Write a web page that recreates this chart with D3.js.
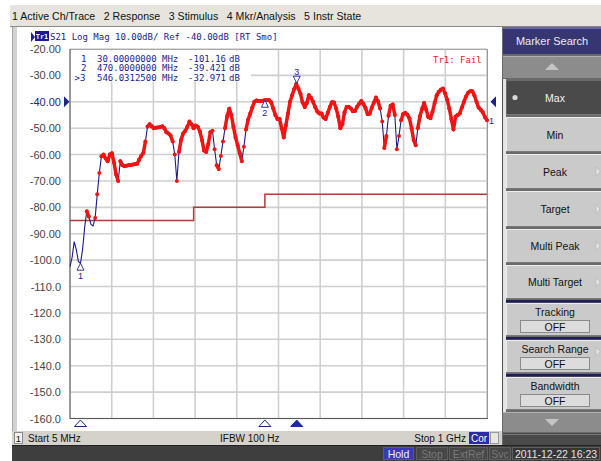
<!DOCTYPE html>
<html><head><meta charset="utf-8">
<script src="https://cdn.jsdelivr.net/npm/d3@7"></script>
<style>
body{margin:0;background:#fff}
svg{display:block}
text{font-family:"Liberation Sans",Arial,sans-serif}
.mono{font-family:"DejaVu Sans Mono","Liberation Mono",monospace}
</style>
</head><body>
<svg id="c" width="601" height="461"></svg>
<script>
// ---------------- DATA ----------------
const startMHz = 5, stopMHz = 1000, stepMHz = 5;
const traceDb = [
 -102.5,-99,-93,-96,-100.5,-101.2,-96,-87.5,-81.5,-83.5,
 -86.5,-87,-84,-75,-67,-60.6,-60,-61.5,-62.5,-60,
 -59.5,-63,-67.5,-70,-62.5,-64,-64.4,-64.2,-64,-64,
 -63.8,-63.7,-63.5,-62,-60.5,-59.4,-55,-49.4,-48.5,-49.3,
 -50,-49.8,-49.7,-49.6,-49.3,-50,-51.5,-52,-52.8,-55,
 -60,-70,-59,-54.5,-52,-51,-49.5,-47.5,-48.5,-50,
 -49,-49.5,-51.3,-54.5,-58.5,-59,-56,-51.5,-51,-58,
 -64,-65.5,-60.5,-55,-50,-45.5,-42.6,-45,-49.5,-53.5,
 -56.5,-59.5,-62.5,-57,-50.5,-46.8,-44.5,-42.2,-40,-39.5,
 -39.7,-39.8,-39.6,-39.4,-39.3,-39.4,-40.2,-42.5,-45,-46.5,
 -46.5,-50,-53.5,-49,-44.5,-40,-37.5,-35.2,-33.2,-35,
 -37,-40.3,-42,-40.5,-37.5,-38.5,-40,-42,-43.7,-44.4,
 -44.4,-46,-46.5,-44.2,-42,-40.2,-40.3,-42.5,-45.6,-50,
 -48.5,-44,-42,-41.9,-42.5,-43.6,-43.5,-41.9,-40.7,-39.7,
 -40.8,-42.3,-44.6,-44.5,-42.3,-40.3,-38.4,-39.8,-42.5,-47.5,
 -57.5,-53,-45.3,-41.5,-41,-45,-58,-53,-47,-44.6,
 -44.2,-44.9,-46.3,-50,-54.5,-56.5,-50,-45.5,-42.7,-40.5,
 -43,-45.8,-46.2,-43.8,-40.5,-37.5,-36.2,-35.4,-35,-36.8,
 -39.2,-42.5,-46.5,-50.5,-45.6,-45,-44.4,-42.2,-40,-38,
 -36.6,-36,-36,-37.6,-40,-42.2,-43,-44,-45.8,-47
];
const traceMHz = traceDb.map((d, i) => startMHz + i * stepMHz);

const limitStartMHz = [5, 300, 470];
const limitStopMHz  = [300, 470, 1000];
const limitDb       = [-85, -80, -75];

const markerNum  = ["1", "2", "3"];
const markerMHz  = [30, 470, 546.03125];
const markerDb   = [-101.16, -39.421, -32.971];
const markerFreqText = ["30.00000000 MHz", "470.0000000 MHz", "546.0312500 MHz"];
const markerValText  = ["-101.16", "-39.421", "-32.971"];

const yTickValues = [-20,-30,-40,-50,-60,-70,-80,-90,-100,-110,-120,-130,-140,-150,-160];
const yTickLabels = ["-20.00","-30.00","-40.00","-50.00","-60.00","-70.00","-80.00","-90.00",
                     "-100.0","-110.0","-120.0","-130.0","-140.0","-150.0","-160.0"];
const xGridMHz = [5,104.5,204,303.5,403,502.5,602,701.5,801,900.5,1000];

const menuItems = ["1 Active Ch/Trace","2 Response","3 Stimulus","4 Mkr/Analysis","5 Instr State"];
const softkeys = [
  {label:"Max", y0:80, y1:115, active:true},
  {label:"Min", y0:117, y1:152},
  {label:"Peak", y0:154, y1:189, arrow:true},
  {label:"Target", y0:191, y1:227, arrow:true},
  {label:"Multi Peak", y0:229, y1:263, arrow:true},
  {label:"Multi Target", y0:265, y1:299, arrow:true},
  {label:"Tracking", y0:303, y1:336, value:"OFF"},
  {label:"Search Range", y0:340, y1:373, value:"OFF", arrow:true},
  {label:"Bandwidth", y0:377, y1:410, value:"OFF"}
];

// ---------------- DRAW ----------------
const svg = d3.select("#c");
const NAVY = "#1c238c";

const x = d3.scaleLinear().domain([startMHz, stopMHz]).range([70, 487]);
const y = d3.scaleLinear().domain([-160, -20]).range([418.5, 49]);

// Top menu bar
svg.append("rect").attr("x",10).attr("y",5).attr("width",591).attr("height",21).attr("fill","#e6e4dc");
svg.append("line").attr("x1",10).attr("x2",601).attr("y1",26.5).attr("y2",26.5).attr("stroke","#8a8a8a");
let mx = 12;
menuItems.forEach(m => {
  const t = svg.append("text").attr("x",mx).attr("y",20).attr("font-size",10.6).attr("fill","#111").text(m);
  mx += t.node().getComputedTextLength() + 8.5;
});

// Main panel
svg.append("rect").attr("x",12).attr("y",27).attr("width",490).attr("height",404).attr("fill","#fff");
svg.append("rect").attr("x",12).attr("y",27).attr("width",5).attr("height",404).attr("fill","#d2d2d2");
svg.append("line").attr("x1",12.5).attr("x2",12.5).attr("y1",27).attr("y2",431).attr("stroke","#a8a8a8");

// Trace header
svg.append("path").attr("d","M31,32 L35,37 L31,42 Z").attr("fill",NAVY);
svg.append("rect").attr("x",35).attr("y",31).attr("width",14).attr("height",10).attr("fill","#1a1a90");
svg.append("text").attr("class","mono").attr("x",42).attr("y",39).attr("text-anchor","middle").attr("font-size",6.8).attr("font-weight","bold").attr("fill","#fff").text("Tr1");
svg.append("text").attr("class","mono").attr("x",50).attr("y",40).attr("font-size",9).attr("fill",NAVY)
  .text("S21 Log Mag 10.00dB/ Ref -40.00dB [RT Smo]");

// Grid
const g = svg.append("g");
g.selectAll("line.hg").data(yTickValues).join("line")
  .attr("x1",70).attr("x2",487).attr("y1",d=>y(d)).attr("y2",d=>y(d))
  .attr("stroke","#cfcfcf").attr("stroke-width",1.6);
g.selectAll("line.vg").data(xGridMHz).join("line")
  .attr("x1",d=>x(d)).attr("x2",d=>x(d)).attr("y1",y(-20)).attr("y2",y(-160))
  .attr("stroke","#cfcfcf").attr("stroke-width",1.6);
svg.append("line").attr("x1",70).attr("x2",487.5).attr("y1",49.5).attr("y2",49.5).attr("stroke","#a8a8a8");
svg.append("line").attr("x1",487.5).attr("x2",487.5).attr("y1",49).attr("y2",419).attr("stroke","#9a9a9a");
svg.append("line").attr("x1",70).attr("x2",70).attr("y1",49).attr("y2",419).attr("stroke","#5a5a5a");
svg.append("line").attr("x1",70).attr("x2",488).attr("y1",418.5).attr("y2",418.5).attr("stroke","#5a5a5a");

// Y axis labels
const yAxis = d3.axisLeft(y).tickValues(yTickValues)
  .tickFormat((d,i)=>yTickLabels[i]).tickSize(0).tickPadding(0);
const ya = svg.append("g").attr("transform","translate(61,0)").call(yAxis);
ya.select(".domain").remove();
ya.selectAll("text").attr("font-family","Liberation Sans, Arial, sans-serif").attr("font-size",11)
  .attr("fill",d=>d===-40?NAVY:"#454545");
svg.append("path").attr("d",`M64,${y(-40)-5.5} L69.5,${y(-40)} L64,${y(-40)+5.5} Z`).attr("fill",NAVY);
svg.append("path").attr("d",`M496,${y(-40)-5.5} L490.5,${y(-40)} L496,${y(-40)+5.5} Z`).attr("fill",NAVY);

// Limit line (step)
const limPts = [];
limitStartMHz.forEach((s,i)=>{ limPts.push([s,limitDb[i]]); limPts.push([limitStopMHz[i],limitDb[i]]); });
svg.append("path").attr("d", d3.line().x(d=>x(d[0])).y(d=>y(d[1]))(limPts))
  .attr("fill","none").attr("stroke","#b23a3a").attr("stroke-width",1.5);

// Trace line
const tr = traceMHz.map((f,i)=>[f,traceDb[i]]);
svg.append("path").attr("d", d3.line().x(d=>x(d[0])).y(d=>y(d[1]))(tr))
  .attr("fill","none").attr("stroke","#1c1c88").attr("stroke-width",1.1);
// fail points
function limitAt(f){ for(let i=0;i<limitStartMHz.length;i++){ if(f>=limitStartMHz[i] && f<limitStopMHz[i]) return limitDb[i]; } return limitDb[limitDb.length-1]; }
const fail = tr.map(d=>d[1]>limitAt(d[0]));
const failG = svg.append("g");
for (let i=1;i<tr.length;i++){
  if (fail[i] && fail[i-1]) {
    const dy = Math.abs(y(tr[i][1]) - y(tr[i-1][1]));
    if (dy <= 13) {
      failG.append("line").attr("x1",x(tr[i-1][0])).attr("y1",y(tr[i-1][1]))
        .attr("x2",x(tr[i][0])).attr("y2",y(tr[i][1]))
        .attr("stroke","#ee1515").attr("stroke-width",3.5).attr("stroke-linecap","round");
    }
  }
}
failG.selectAll("circle").data(tr.filter((d,i)=>fail[i])).join("circle")
  .attr("cx",d=>x(d[0])).attr("cy",d=>y(d[1])).attr("r",2).attr("fill","#ee1515");

// Marker table (white box)
svg.append("rect").attr("x",71).attr("y",50.5).attr("width",180).attr("height",31).attr("fill","#fff");
markerNum.forEach((n,i)=>{
  const yy = 61.5 + i*9.6;
  svg.append("text").attr("class","mono").attr("x", i===2?74.5:81).attr("y",yy).attr("font-size",9).attr("fill",NAVY).text(i===2?">3":n);
  svg.append("text").attr("class","mono").attr("x",97).attr("y",yy).attr("font-size",9).attr("fill",NAVY).text(markerFreqText[i]);
  svg.append("text").attr("class","mono").attr("x",226).attr("y",yy).attr("font-size",9).attr("text-anchor","end").attr("fill",NAVY).text(markerValText[i]);
  svg.append("text").attr("class","mono").attr("x",229).attr("y",yy).attr("font-size",9).attr("fill",NAVY).text("dB");
});
svg.append("text").attr("class","mono").attr("x",433).attr("y",63).attr("font-size",9).attr("fill","#e02020").text("Tr1: Fail");

// Markers on trace
markerMHz.forEach((f,i)=>{
  const px = x(f), py = y(markerDb[i]);
  if (i === 2) {
    svg.append("path").attr("d",`M${px-3.5},${py-7} L${px+3.5},${py-7} L${px},${py} Z`).attr("fill","#fff").attr("stroke",NAVY).attr("stroke-width",0.9);
    svg.append("text").attr("x",px).attr("y",py-8.5).attr("text-anchor","middle").attr("font-size",9).attr("fill",NAVY).text(markerNum[i]);
  } else {
    svg.append("path").attr("d",`M${px},${py} L${px+3.5},${py+7} L${px-3.5},${py+7} Z`).attr("fill","#fff").attr("stroke",NAVY).attr("stroke-width",0.9);
    svg.append("text").attr("x",px).attr("y",py+15.5).attr("text-anchor","middle").attr("font-size",9).attr("fill",NAVY).text(markerNum[i]);
  }
  svg.append("path").attr("d",`M${px},${420} L${px+6},${426.5} L${px-6},${426.5} Z`)
    .attr("fill", i===2?"#1c2aa0":"#fff").attr("stroke",i===2?"#1c2aa0":NAVY).attr("stroke-width",1);
});
svg.append("text").attr("x",489).attr("y",y(traceDb[traceDb.length-1])+4).attr("font-size",9).attr("fill",NAVY).text("1");

// Channel status bar
svg.append("rect").attr("x",12).attr("y",431).attr("width",490).attr("height",14).attr("fill","#d4d2ca");
svg.append("rect").attr("x",14.5).attr("y",432.5).attr("width",8).attr("height",11).attr("fill","#f2f2f2").attr("stroke","#8a8a8a");
svg.append("text").attr("x",18.5).attr("y",441.5).attr("text-anchor","middle").attr("font-size",9.5).attr("fill","#111").text("1");
svg.append("text").attr("x",28).attr("y",441.5).attr("font-size",10).attr("fill","#111").text("Start 5 MHz");
svg.append("text").attr("x",220).attr("y",441.5).attr("font-size",10).attr("fill","#111").text("IFBW 100 Hz");
svg.append("text").attr("x",466).attr("y",441.5).attr("font-size",10).attr("text-anchor","end").attr("fill","#111").text("Stop 1 GHz");
svg.append("rect").attr("x",469).attr("y",432).attr("width",20).attr("height",12).attr("fill","#2a2aa8");
svg.append("text").attr("x",479).attr("y",441.5).attr("text-anchor","middle").attr("font-size",10).attr("fill","#fff").text("Cor");
svg.append("rect").attr("x",490.5).attr("y",432.5).attr("width",8).attr("height",11).attr("fill","#e6e6e6").attr("stroke","#9a9a9a");

// Bottom instrument status bar
svg.append("rect").attr("x",12).attr("y",445).attr("width",589).attr("height",16).attr("fill","#3e3e3e");
svg.append("line").attr("x1",12).attr("x2",601).attr("y1",445.5).attr("y2",445.5).attr("stroke","#222");
const sb = [
  {t:"Hold", x0:383, x1:413, bg:"#3a3ab4", fg:"#eef"},
  {t:"Stop", x0:416, x1:447, bg:"#474747", fg:"#7a7a7a"},
  {t:"ExtRef", x0:449, x1:487, bg:"#474747", fg:"#7a7a7a"},
  {t:"Svc", x0:489, x1:510, bg:"#474747", fg:"#7a7a7a"},
  {t:"2011-12-22 16:23", x0:512, x1:599, bg:"#363636", fg:"#e4e4e4"}
];
sb.forEach(s=>{
  svg.append("rect").attr("x",s.x0+0.5).attr("y",447.5).attr("width",s.x1-s.x0).attr("height",12)
    .attr("fill",s.bg).attr("stroke","#5e5e5e");
  svg.append("text").attr("x",(s.x0+s.x1)/2+0.5).attr("y",457.5).attr("text-anchor","middle")
    .attr("font-size",10.5).attr("fill",s.fg).text(s.t);
});

// Right softkey panel
svg.append("rect").attr("x",502).attr("y",27).attr("width",99).attr("height",418).attr("fill","#6a6a6a");
svg.append("rect").attr("x",503).attr("y",28).attr("width",98).attr("height",26).attr("fill","#363672");
svg.append("line").attr("x1",503).attr("x2",601).attr("y1",28.5).attr("y2",28.5).attr("stroke","#6a6aa8");
svg.append("text").attr("x",552).attr("y",45).attr("text-anchor","middle").attr("font-size",11).attr("fill","#ececf4").text("Marker Search");
[[56,78,"up"],[412,432,"down"]].forEach(b=>{
  svg.append("rect").attr("x",503).attr("y",b[0]).attr("width",98).attr("height",b[1]-b[0]).attr("fill","#8c8c8c");
  svg.append("line").attr("x1",503).attr("x2",601).attr("y1",b[0]+0.5).attr("y2",b[0]+0.5).attr("stroke","#b0b0b0");
  const cy=(b[0]+b[1])/2;
  const d = b[2]==="up" ? `M545,${cy+3} L559,${cy+3} L552,${cy-4} Z` : `M545,${cy-3} L559,${cy-3} L552,${cy+4} Z`;
  svg.append("path").attr("d",d).attr("fill","#c4c4c4");
});
svg.append("rect").attr("x",503).attr("y",433).attr("width",98).attr("height",12).attr("fill","#4a4a4a");
svg.append("line").attr("x1",503).attr("x2",601).attr("y1",434.5).attr("y2",434.5).attr("stroke","#777");
svg.append("rect").attr("x",502).attr("y",79).attr("width",4).attr("height",333).attr("fill","#e4e4e4");
svg.append("line").attr("x1",502.5).attr("x2",502.5).attr("y1",79).attr("y2",412).attr("stroke","#505050");
[300,337,374].forEach(sy=>{
  svg.append("rect").attr("x",506).attr("y",sy).attr("width",95).attr("height",2.5).attr("fill","#1e1e5a");
});
softkeys.forEach(k=>{
  const bx=506, bw=95;
  svg.append("rect").attr("x",bx).attr("y",k.y0).attr("width",bw).attr("height",k.y1-k.y0)
    .attr("fill",k.active?"#4a4a4a":"#cacaca");
  svg.append("line").attr("x1",bx).attr("x2",bx+bw).attr("y1",k.y0+0.5).attr("y2",k.y0+0.5).attr("stroke",k.active?"#6a6a6a":"#eeeeee");
  svg.append("line").attr("x1",bx+0.5).attr("x2",bx+0.5).attr("y1",k.y0).attr("y2",k.y1).attr("stroke",k.active?"#6a6a6a":"#eeeeee");
  svg.append("line").attr("x1",bx).attr("x2",bx+bw).attr("y1",k.y1-0.5).attr("y2",k.y1-0.5).attr("stroke","#7a7a7a");
  const cy=(k.y0+k.y1)/2;
  if (k.value) {
    svg.append("text").attr("x",555).attr("y",k.y0+12.5).attr("text-anchor","middle").attr("font-size",10.5).attr("fill","#111").text(k.label);
    svg.append("rect").attr("x",520.5).attr("y",k.y0+17.5).attr("width",69).attr("height",12).attr("fill","#dcdcdc").attr("stroke","#8a8a8a");
    svg.append("text").attr("x",555).attr("y",k.y0+27.5).attr("text-anchor","middle").attr("font-size",10.5).attr("fill","#111").text(k.value);
    if (k.arrow) svg.append("path").attr("d",`M596,${k.y0+7} L600,${k.y0+11.5} L596,${k.y0+16} Z`).attr("fill","#e6e6e6").attr("stroke","#b0b0b0").attr("stroke-width",0.6);
  } else {
    svg.append("text").attr("x",555).attr("y",cy+4).attr("text-anchor","middle").attr("font-size",10.5)
      .attr("fill",k.active?"#f2f2f2":"#111").text(k.label);
    if (k.active) svg.append("circle").attr("cx",515).attr("cy",cy).attr("r",2.6).attr("fill","#d8d8d8");
    if (k.arrow) svg.append("path").attr("d",`M596,${cy-4.5} L600,${cy} L596,${cy+4.5} Z`).attr("fill","#e6e6e6").attr("stroke","#b0b0b0").attr("stroke-width",0.6);
  }
});
</script>
</body></html>
